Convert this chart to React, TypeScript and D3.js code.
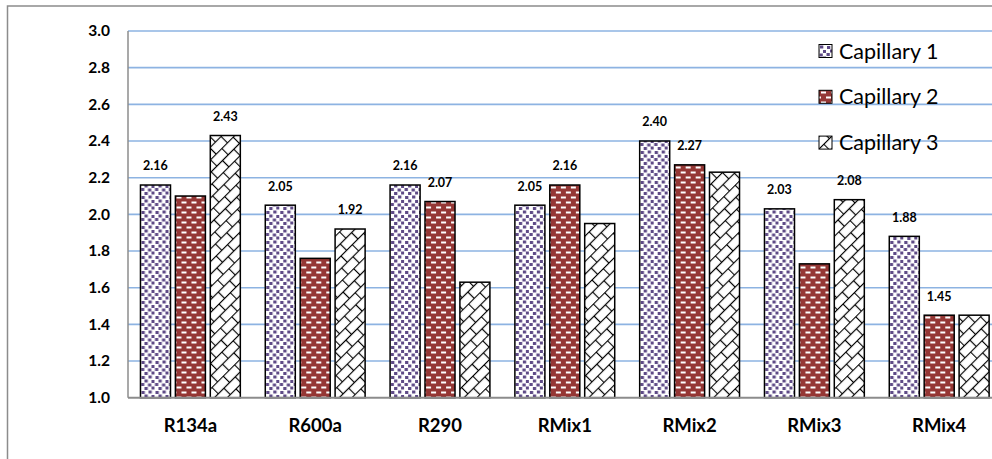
import React from "react";
import * as d3 from "d3";

const categories = ["R134a", "R600a", "R290", "RMix1", "RMix2", "RMix3", "RMix4"];
const seriesNames = ["Capillary 1", "Capillary 2", "Capillary 3"];
const capillary1 = [2.16, 2.05, 2.16, 2.05, 2.4, 2.03, 1.88];
const capillary2 = [2.1, 1.76, 2.07, 2.16, 2.27, 1.73, 1.45];
const capillary3 = [2.43, 1.92, 1.63, 1.95, 2.23, 2.08, 1.45];
const showLabel1 = [true, true, true, true, true, true, true];
const showLabel2 = [false, false, true, true, true, false, true];
const showLabel3 = [true, true, false, false, false, true, false];
const yTicks = [1.0, 1.2, 1.4, 1.6, 1.8, 2.0, 2.2, 2.4, 2.6, 2.8, 3.0];

const W = 992;
const H = 459;
const left = 128;
const right = 1001.6;
const top = 31;
const bottom = 397.7;

export default function App() {
  const series = [capillary1, capillary2, capillary3];
  const shows = [showLabel1, showLabel2, showLabel3];
  const fills = ["url(#pat1)", "url(#pat2)", "url(#pat3)"];
  const x0 = d3.scaleBand<string>().domain(categories).range([left, right]).paddingInner(0.2).paddingOuter(0.1);
  const x1 = d3.scaleBand<string>().domain(seriesNames).range([0, x0.bandwidth()]).paddingInner(0.14).paddingOuter(0);
  const y = d3.scaleLinear().domain([1, 3]).range([bottom, top]);
  const font = "Lato, 'Open Sans', sans-serif";

  const confetti: [number, number][] = [
    [1, 1], [8, 0.5], [4, 4.5], [11, 5], [0.5, 8], [7.5, 8.5], [4, 12], [11, 11.5],
  ];

  return (
    <svg width={W} height={H} style={{ position: "absolute", left: 0, top: 0, background: "#fff" }}>
      <defs>
        <pattern id="pat1" patternUnits="userSpaceOnUse" width={14} height={15}>
          <rect width={14} height={15} fill="#fff" />
          {confetti.map(([a, b], i) => (
            <rect key={i} x={a} y={b} width={3.3} height={3} fill="#5e4a86" />
          ))}
        </pattern>
        <pattern id="pat2" patternUnits="userSpaceOnUse" width={10} height={10}>
          <rect width={10} height={10} fill="#953735" />
          <rect x={1} y={1.5} width={5} height={2} fill="#fff" />
          <rect x={6} y={6.5} width={5} height={2} fill="#fff" />
          <rect x={-4} y={6.5} width={5} height={2} fill="#fff" />
        </pattern>
        <pattern id="pat3" patternUnits="userSpaceOnUse" width={16} height={18} patternTransform="rotate(-45)">
          <rect x={-1} y={-1} width={18} height={20} fill="#fff" />
          <line x1={0} y1={0.5} x2={16} y2={0.5} stroke="#000" strokeWidth={1.2} />
          <line x1={0} y1={9.5} x2={16} y2={9.5} stroke="#000" strokeWidth={1.2} />
          <line x1={0.5} y1={0} x2={0.5} y2={9.5} stroke="#000" strokeWidth={1.2} />
          <line x1={8.5} y1={9.5} x2={8.5} y2={18} stroke="#000" strokeWidth={1.2} />
        </pattern>
      </defs>

      {/* chart border */}
      <rect x={7.5} y={6} width={W + 20} height={H + 20} fill="none" stroke="#8c8c8c" strokeWidth={1.5} />

      {/* gridlines */}
      {yTicks.slice(1).map((t) => (
        <line key={t} x1={left} x2={right} y1={y(t)} y2={y(t)} stroke="#8db3e2" strokeWidth={1.6} />
      ))}

      {/* y tick labels */}
      {yTicks.map((t) => (
        <text key={t} x={110} y={y(t)} dy="0.35em" textAnchor="end" fontFamily={font} fontWeight="bold" fontSize={15.5} fill="#000">
          {t.toFixed(1)}
        </text>
      ))}

      {/* bars */}
      {categories.map((c, ci) => (
        <g key={c} transform={`translate(${x0(c)},0)`}>
          {seriesNames.map((s, si) => {
            const v = series[si][ci];
            return (
              <rect key={s} x={x1(s)} y={y(v)} width={x1.bandwidth()} height={y(1) - y(v)} fill={fills[si]} stroke="#000" strokeWidth={1.5} />
            );
          })}
          {seriesNames.map((s, si) => {
            const v = series[si][ci];
            if (!shows[si][ci]) return null;
            return (
              <text key={s + "l"} x={(x1(s) as number) + x1.bandwidth() / 2} y={y(v) - 19} dy="0.35em" textAnchor="middle" fontFamily={font} fontWeight="bold" fontSize={12.5} fill="#000">
                {v.toFixed(2)}
              </text>
            );
          })}
        </g>
      ))}

      {/* axes */}
      <line x1={left} x2={left} y1={top} y2={bottom} stroke="#8c8c8c" strokeWidth={1.5} />
      <line x1={left} x2={right} y1={bottom} y2={bottom} stroke="#8c8c8c" strokeWidth={2} />

      {/* x labels */}
      {categories.map((c) => (
        <text key={c} x={(x0(c) as number) + x0.bandwidth() / 2} y={425.5} dy="0.35em" textAnchor="middle" fontFamily={font} fontWeight="bold" fontSize={18.5} fill="#000">
          {c}
        </text>
      ))}

      {/* legend */}
      {seriesNames.map((s, i) => {
        const cy = 51 + i * 45.8;
        return (
          <g key={s}>
            <rect x={819} y={cy - 6.5} width={13} height={13} fill={fills[i]} stroke="#000" strokeWidth={1} />
            <text x={839} y={cy} dy="0.35em" fontFamily={font} fontSize={21.5} fill="#000">
              {s}
            </text>
          </g>
        );
      })}
    </svg>
  );
}
